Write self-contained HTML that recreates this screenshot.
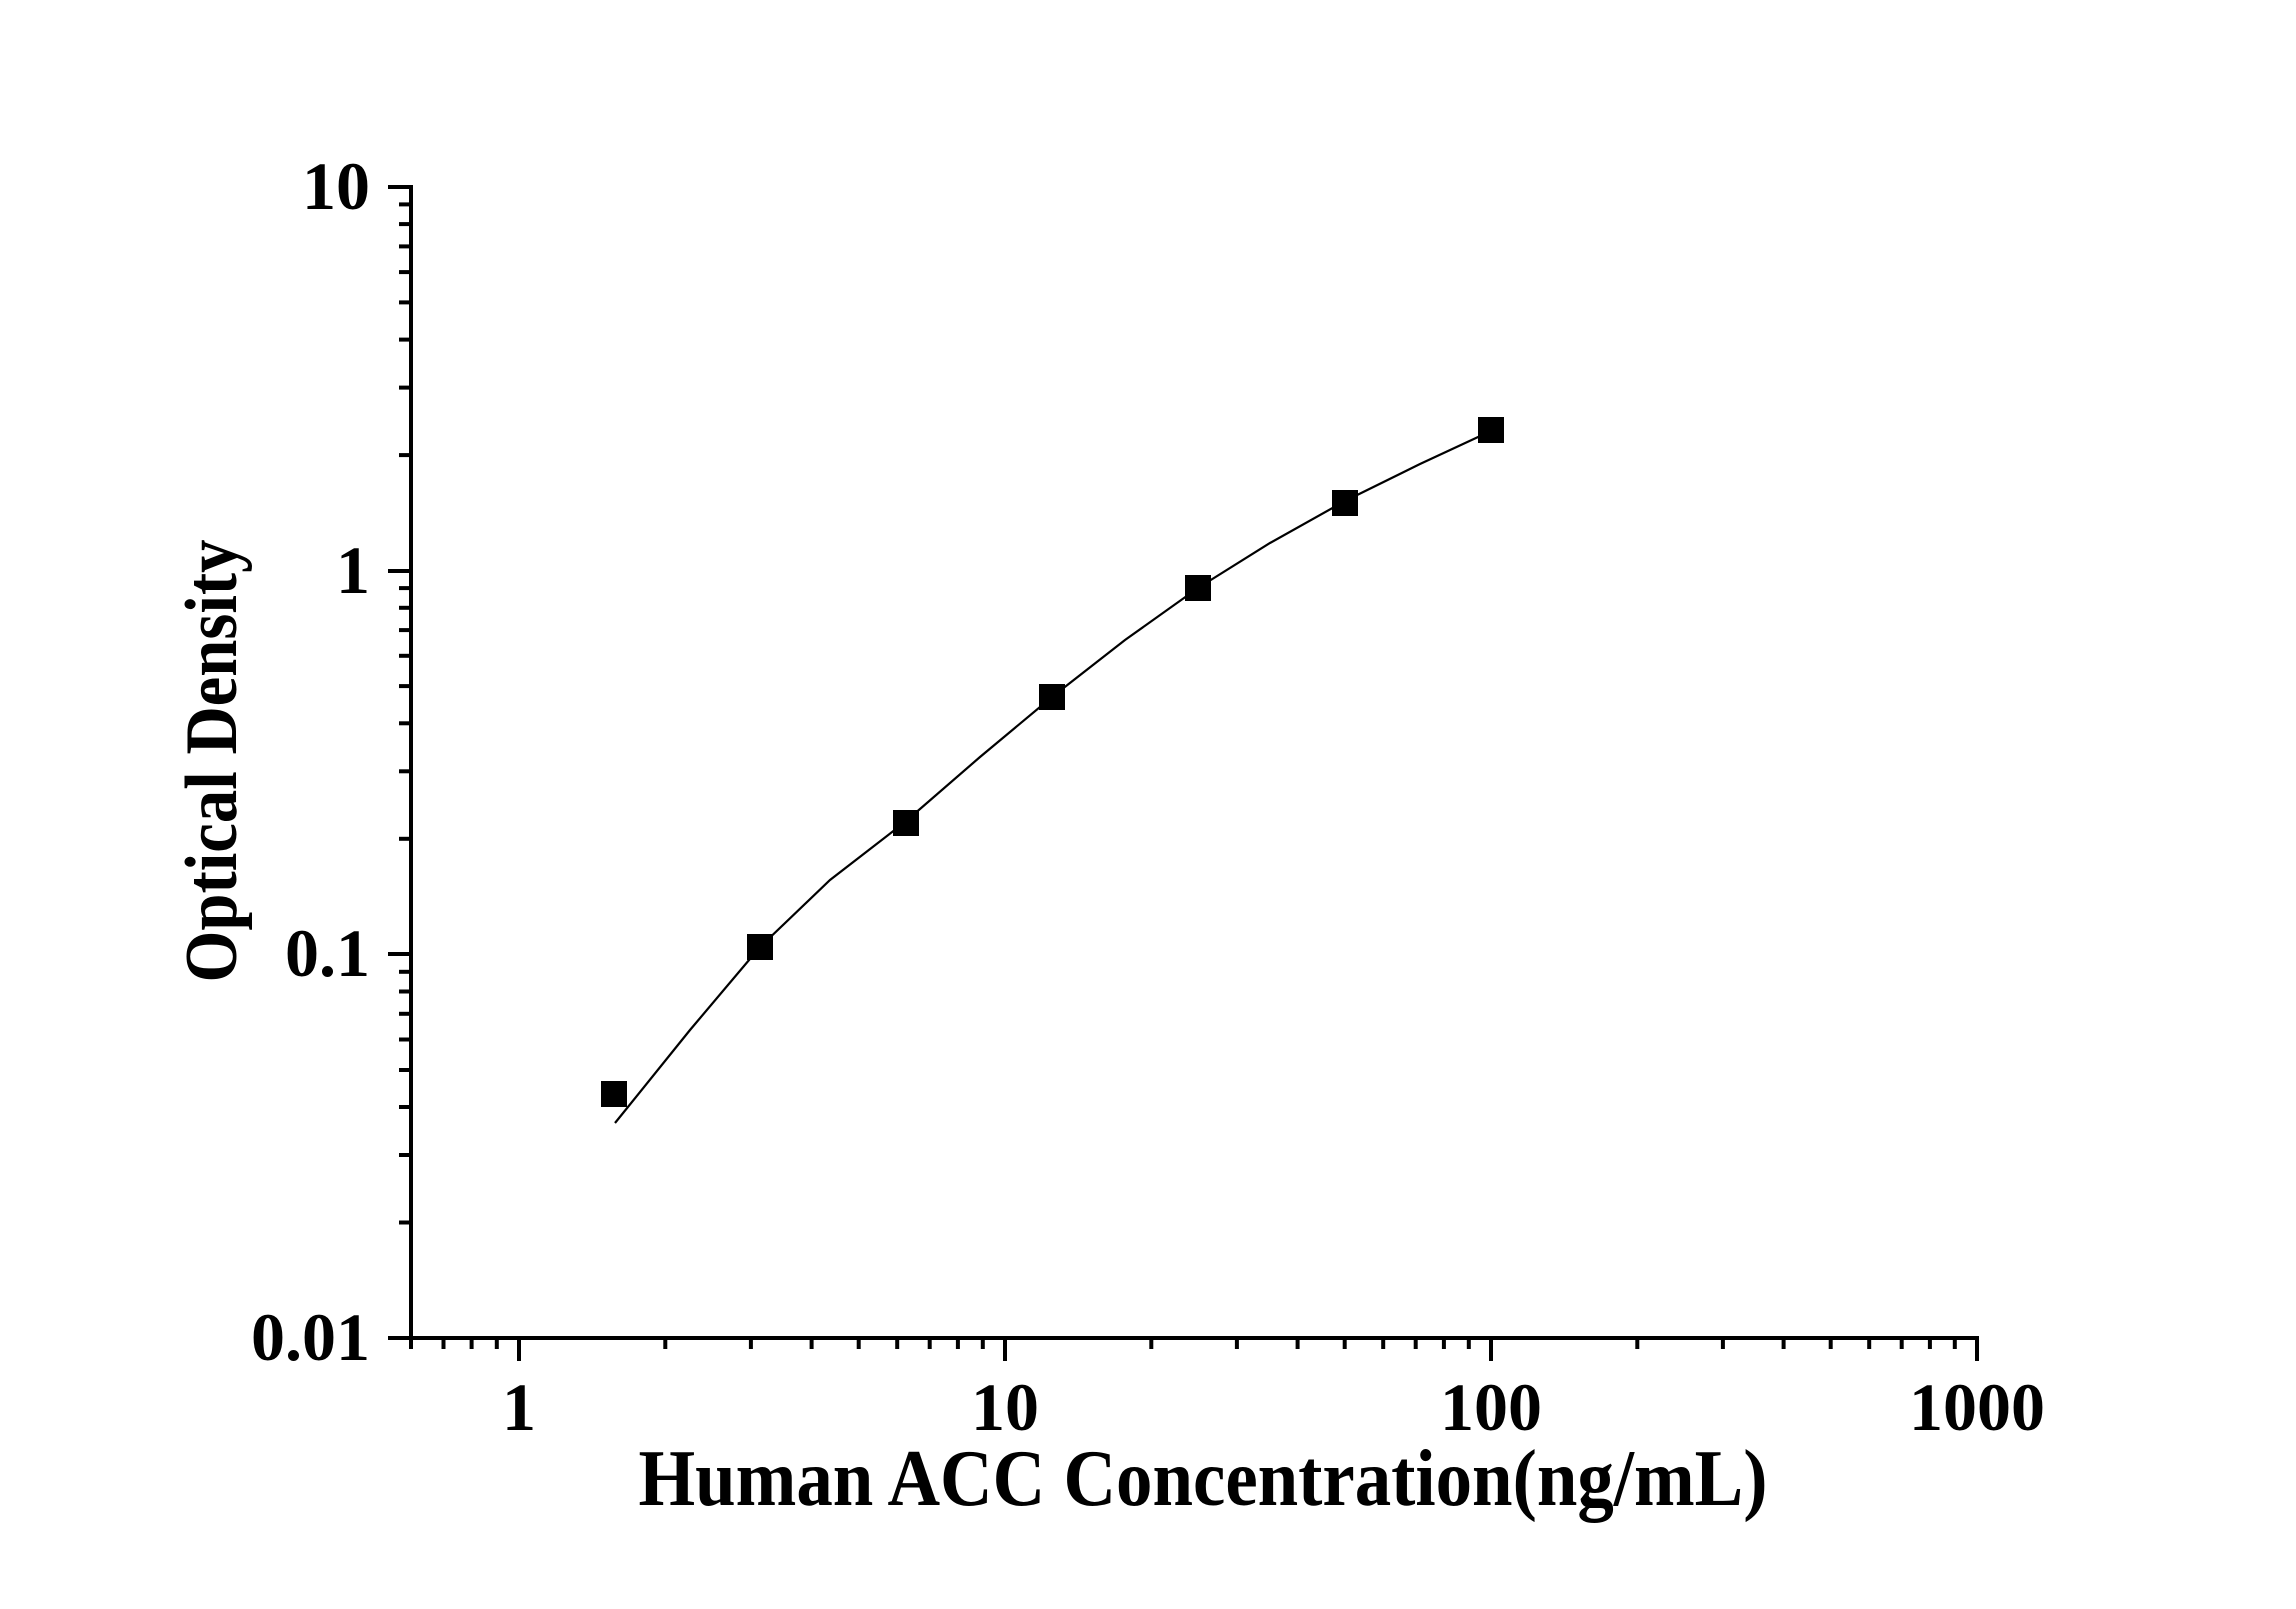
<!DOCTYPE html>
<html><head><style>html,body{margin:0;padding:0;background:#fff}</style></head>
<body>
<svg width="2296" height="1604" viewBox="0 0 2296 1604" xmlns="http://www.w3.org/2000/svg" font-family="'Liberation Serif', serif" font-weight="bold">
<rect width="2296" height="1604" fill="#fff"/>
<g stroke="#000" stroke-width="4" fill="none">
<line x1="411" y1="185" x2="411" y2="1340"/>
<line x1="388" y1="1338" x2="1979" y2="1338"/>
<line x1="388" y1="187" x2="411" y2="187"/>
<line x1="388" y1="571" x2="411" y2="571"/>
<line x1="388" y1="954" x2="411" y2="954"/>
</g>
<g stroke="#000" stroke-width="4">
<line x1="399" x2="411" y1="1222.5" y2="1222.5"/><line x1="399" x2="411" y1="1155" y2="1155"/><line x1="399" x2="411" y1="1107" y2="1107"/><line x1="399" x2="411" y1="1070" y2="1070"/><line x1="399" x2="411" y1="1039.5" y2="1039.5"/><line x1="399" x2="411" y1="1013.8" y2="1013.8"/><line x1="399" x2="411" y1="991.5" y2="991.5"/><line x1="399" x2="411" y1="971.8" y2="971.8"/>
<line x1="399" x2="411" y1="838.8" y2="838.8"/><line x1="399" x2="411" y1="771.3" y2="771.3"/><line x1="399" x2="411" y1="723.3" y2="723.3"/><line x1="399" x2="411" y1="686.1" y2="686.1"/><line x1="399" x2="411" y1="655.8" y2="655.8"/><line x1="399" x2="411" y1="630.1" y2="630.1"/><line x1="399" x2="411" y1="607.8" y2="607.8"/><line x1="399" x2="411" y1="588.1" y2="588.1"/>
<line x1="399" x2="411" y1="455.1" y2="455.1"/><line x1="399" x2="411" y1="387.6" y2="387.6"/><line x1="399" x2="411" y1="339.6" y2="339.6"/><line x1="399" x2="411" y1="302.4" y2="302.4"/><line x1="399" x2="411" y1="272.1" y2="272.1"/><line x1="399" x2="411" y1="246.4" y2="246.4"/><line x1="399" x2="411" y1="224.1" y2="224.1"/><line x1="399" x2="411" y1="204.4" y2="204.4"/>
</g>
<g stroke="#000" stroke-width="4">
<line x1="519" x2="519" y1="1338" y2="1361"/><line x1="1005" x2="1005" y1="1338" y2="1361"/><line x1="1491" x2="1491" y1="1338" y2="1361"/><line x1="1977" x2="1977" y1="1338" y2="1361"/>
<line x1="411" x2="411" y1="1338" y2="1349"/><line x1="443.5" x2="443.5" y1="1338" y2="1349"/><line x1="471.6" x2="471.6" y1="1338" y2="1349"/><line x1="496.8" x2="496.8" y1="1338" y2="1349"/>
<line x1="665.3" x2="665.3" y1="1338" y2="1349"/><line x1="750.9" x2="750.9" y1="1338" y2="1349"/><line x1="811.6" x2="811.6" y1="1338" y2="1349"/><line x1="858.7" x2="858.7" y1="1338" y2="1349"/><line x1="897.2" x2="897.2" y1="1338" y2="1349"/><line x1="929.7" x2="929.7" y1="1338" y2="1349"/><line x1="957.9" x2="957.9" y1="1338" y2="1349"/><line x1="982.8" x2="982.8" y1="1338" y2="1349"/>
<line x1="1151.3" x2="1151.3" y1="1338" y2="1349"/><line x1="1236.9" x2="1236.9" y1="1338" y2="1349"/><line x1="1297.6" x2="1297.6" y1="1338" y2="1349"/><line x1="1344.7" x2="1344.7" y1="1338" y2="1349"/><line x1="1383.2" x2="1383.2" y1="1338" y2="1349"/><line x1="1415.7" x2="1415.7" y1="1338" y2="1349"/><line x1="1443.9" x2="1443.9" y1="1338" y2="1349"/><line x1="1468.8" x2="1468.8" y1="1338" y2="1349"/>
<line x1="1637.3" x2="1637.3" y1="1338" y2="1349"/><line x1="1722.9" x2="1722.9" y1="1338" y2="1349"/><line x1="1783.6" x2="1783.6" y1="1338" y2="1349"/><line x1="1830.7" x2="1830.7" y1="1338" y2="1349"/><line x1="1869.2" x2="1869.2" y1="1338" y2="1349"/><line x1="1901.7" x2="1901.7" y1="1338" y2="1349"/><line x1="1929.9" x2="1929.9" y1="1338" y2="1349"/><line x1="1954.8" x2="1954.8" y1="1338" y2="1349"/>
</g>
<polyline fill="none" stroke="#000" stroke-width="2.2" points="615,1123 690,1030 760,947 830,880 905,822 980,757 1052,697 1125,640 1198,588 1270,543 1345,501 1420,464 1491,431"/>
<g fill="#000">
<rect x="601" y="1081" width="26" height="26"/>
<rect x="747" y="934" width="26" height="26"/>
<rect x="893" y="810" width="26" height="26"/>
<rect x="1039" y="684" width="26" height="26"/>
<rect x="1185" y="575" width="26" height="26"/>
<rect x="1332" y="490" width="26" height="26"/>
<rect x="1478" y="417" width="26" height="26"/>
</g>
<g font-size="68" text-anchor="end" fill="#000">
<text x="370" y="209">10</text>
<text x="370" y="593">1</text>
<text x="370" y="976">0.1</text>
<text x="370" y="1360">0.01</text>
</g>
<g font-size="68" text-anchor="middle" fill="#000">
<text x="519" y="1430">1</text>
<text x="1005" y="1430">10</text>
<text x="1491" y="1430">100</text>
<text x="1977" y="1430">1000</text>
</g>
<text x="1203" y="1505" font-size="80" text-anchor="middle" textLength="1129" lengthAdjust="spacingAndGlyphs">Human ACC Concentration(ng/mL)</text>
<text transform="translate(236,761) rotate(-90)" font-size="74" text-anchor="middle" textLength="443" lengthAdjust="spacingAndGlyphs">Optical Density</text>
</svg>
</body></html>
